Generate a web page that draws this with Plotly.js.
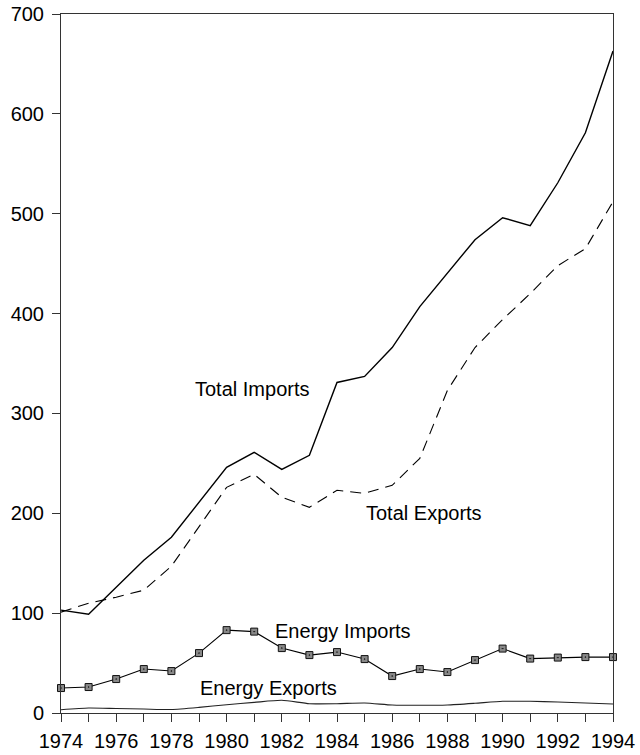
<!DOCTYPE html>
<html>
<head>
<meta charset="utf-8">
<script src="https://cdn.plot.ly/plotly-3.0.1.min.js"></script>
<style>html,body{margin:0;padding:0;background:#fff;}#chart{width:640px;height:755px;}</style>
</head>
<body>
<div id="chart"></div>
<script>
const years = [1974,1975,1976,1977,1978,1979,1980,1981,1982,1983,1984,1985,1986,1987,1988,1989,1990,1991,1992,1993,1994];
const totalImports = [103,99,126,153,176,211,246,261,244,258,331,337,366,407,440,474,496,488,531,581,663];
const totalExports = [101,110,116,123,147,186,226,239,216,206,223,220,228,255,323,366,394,420,448,465,512];
const energyImports = [25,26,34,44,42,60,83,81.5,65,58,61,54,37,44,41,53,64.5,54.5,55.5,56,56];
const energyExports = [3.3,5,4.5,4,3.5,5.6,8.3,10.6,12.7,9.3,9.3,10,8,7.7,8,9.7,11.7,11.7,11,10,9];
const labels = [
  {text:'Total Imports', x:1980.91, y:324},
  {text:'Total Exports', x:1987.15, y:200},
  {text:'Energy Imports', x:1984.23, y:82},
  {text:'Energy Exports', x:1981.51, y:25.5}
];

const font = 'Liberation Sans, Arial, sans-serif';
const traces = [
  {x:years, y:totalImports, mode:'lines', line:{color:'#000', width:1.4}},
  {x:years, y:totalExports, mode:'lines', line:{color:'#000', width:1.1, dash:'11px,7px'}},
  {x:years, y:energyImports, mode:'lines+markers', cliponaxis:false,
   line:{color:'#000', width:1.1},
   marker:{symbol:'square-dot', size:7, color:'#888', line:{color:'#111', width:1}}},
  {x:years, y:energyExports, mode:'lines', line:{color:'#222', width:1.1, shape:'spline', smoothing:0.6}}
];

const layout = {
  width:640, height:755,
  margin:{l:61, r:27, t:14, b:42},
  paper_bgcolor:'#fff', plot_bgcolor:'#fff',
  showlegend:false,
  font:{family:font, size:20, color:'#000'},
  xaxis:{
    range:[1974,1994], tickmode:'linear', tick0:1974, dtick:2,
    ticks:'outside', ticklen:8, tickwidth:1, tickcolor:'#333',
    minor:{dtick:1, ticks:'outside', ticklen:8, tickwidth:1, tickcolor:'#333'},
    showgrid:false, zeroline:false, showline:true, linecolor:'#333', linewidth:1, mirror:true,
    tickfont:{family:font, size:20, color:'#000'}, ticklabelstandoff:2
  },
  yaxis:{
    range:[0,700], tickmode:'linear', tick0:0, dtick:100,
    ticks:'outside', ticklen:8, tickwidth:1, tickcolor:'#333',
    showgrid:false, zeroline:false, showline:true, linecolor:'#333', linewidth:1, mirror:true,
    tickfont:{family:font, size:20, color:'#000'}, ticklabelstandoff:4
  },
  annotations: labels.map(a => ({text:a.text, x:a.x, y:a.y, xref:'x', yref:'y', showarrow:false,
    xanchor:'center', yanchor:'middle', font:{family:font, size:20, color:'#000'}}))
};

Plotly.newPlot('chart', traces, layout, {staticPlot:true, displayModeBar:false});
</script>
</body>
</html>
